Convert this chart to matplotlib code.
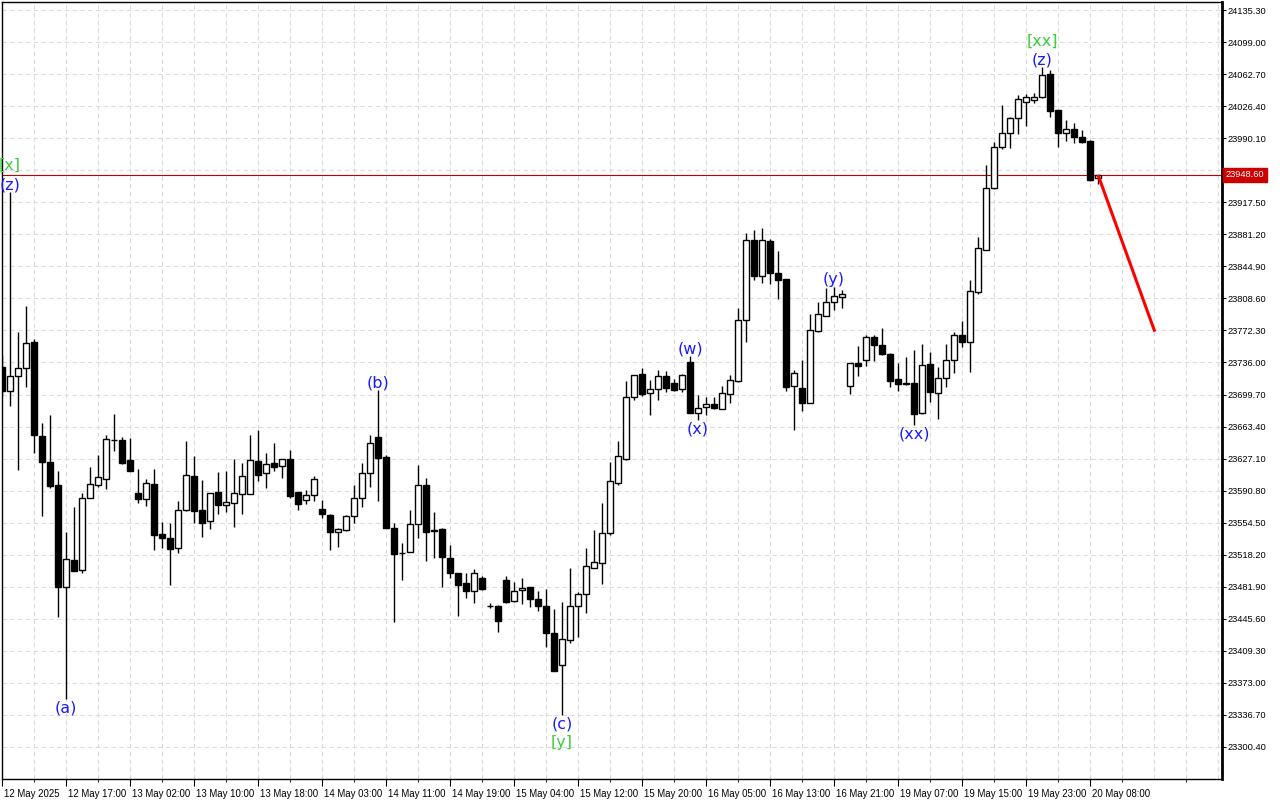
import matplotlib
matplotlib.use('Agg')
import matplotlib.pyplot as plt
import matplotlib.transforms as mtransforms
import numpy as np

# ---------------- data ----------------
opens = [23730.7, 23703.2, 23720.2, 23729.5, 23759.0, 23652.6, 23622.7, 23597.2, 23481.1, 23512.2,
         23501.3, 23583.0, 23597.2, 23604.5, 23648.6, 23647.8, 23625.5, 23588.3, 23581.8, 23598.4,
         23541.6, 23536.8, 23525.4, 23568.5, 23607.0, 23568.5, 23556.0, 23588.9, 23574.9, 23576.4,
         23587.4, 23587.4, 23624.4, 23610.4, 23621.7, 23618.7, 23626.3, 23588.9, 23579.8, 23585.5,
         23570.0, 23563.2, 23544.3, 23546.6, 23562.4, 23582.1, 23610.4, 23651.2, 23629.3, 23548.1,
         23520.5, 23521.6, 23552.6, 23596.8, 23545.8, 23547.0, 23514.1, 23497.1, 23485.8, 23477.5,
         23491.4, 23460.1, 23460.1, 23489.6, 23466.1, 23477.9, 23481.3, 23468.0, 23460.1, 23429.1,
         23393.3, 23421.6, 23460.1, 23473.7, 23503.1, 23508.4, 23542.4, 23600.0, 23626.2, 23697.3,
         23722.6, 23701.0, 23705.6, 23720.3, 23712.3, 23705.6, 23736.9, 23678.4, 23685.9, 23688.6,
         23683.7, 23700.3, 23714.6, 23784.1, 23874.7, 23834.3, 23873.6, 23837.7, 23830.5, 23709.7,
         23706.7, 23690.4, 23772.0, 23789.0, 23804.9, 23810.5, 23709.7, 23735.8, 23738.8, 23764.5,
         23755.4, 23745.6, 23716.9, 23712.4, 23712.4, 23678.4, 23734.3, 23701.8, 23718.0, 23738.8,
         23767.1, 23758.8, 23816.2, 23863.4, 23933.3, 23980.5, 23995.6, 24012.6, 24031.5, 24033.3,
         24036.4, 24062.8, 24022.0, 23995.6, 24000.1, 23991.0, 23986.9, 23945.5]
highs = [23745.0, 23929.0, 23770.0, 23800.3, 23763.1, 23667.2, 23676.1, 23612.6, 23543.8, 23572.1,
         23588.3, 23617.4, 23630.8, 23653.8, 23677.3, 23651.8, 23651.0, 23615.4, 23604.1, 23615.0,
         23554.9, 23553.8, 23578.7, 23647.0, 23630.0, 23602.8, 23587.7, 23611.9, 23613.0, 23626.3,
         23621.7, 23653.8, 23659.5, 23633.4, 23644.8, 23627.0, 23636.8, 23589.5, 23591.5, 23607.4,
         23580.2, 23564.0, 23548.5, 23563.0, 23597.2, 23621.7, 23653.8, 23704.8, 23631.2, 23554.5,
         23531.1, 23568.9, 23619.8, 23604.7, 23567.0, 23548.0, 23529.2, 23497.5, 23497.1, 23501.6,
         23494.5, 23463.9, 23461.0, 23494.1, 23486.9, 23491.4, 23482.0, 23477.1, 23479.0, 23456.3,
         23464.3, 23502.8, 23475.6, 23525.4, 23546.2, 23577.2, 23623.0, 23647.0, 23715.0, 23721.8,
         23729.4, 23715.8, 23727.5, 23726.3, 23717.0, 23723.0, 23743.3, 23699.1, 23697.3, 23697.3,
         23709.3, 23721.8, 23797.3, 23883.0, 23886.1, 23887.9, 23875.5, 23862.3, 23831.0, 23727.5,
         23738.8, 23790.5, 23804.9, 23820.0, 23821.9, 23818.0, 23735.5, 23755.0, 23767.1, 23767.1,
         23775.4, 23747.0, 23735.0, 23742.6, 23750.1, 23756.9, 23747.5, 23731.2, 23756.9, 23770.1,
         23782.9, 23829.4, 23877.8, 23959.7, 23985.4, 24027.7, 24014.5, 24039.0, 24039.7, 24041.6,
         24070.3, 24067.3, 24022.5, 24010.7, 24006.9, 23999.4, 23988.0, 23948.9]
lows = [23698.0, 23686.2, 23614.2, 23708.4, 23633.6, 23562.0, 23594.0, 23447.5, 23354.4, 23499.3,
        23498.0, 23583.0, 23595.2, 23593.1, 23635.6, 23620.6, 23613.0, 23577.0, 23573.7, 23524.0,
        23526.2, 23483.9, 23520.5, 23568.0, 23554.5, 23538.6, 23547.7, 23564.3, 23566.9, 23550.0,
        23564.7, 23587.0, 23602.1, 23594.2, 23613.4, 23605.5, 23582.1, 23569.2, 23575.3, 23579.4,
        23560.2, 23523.5, 23527.3, 23545.5, 23554.5, 23572.6, 23595.3, 23579.4, 23548.1, 23442.4,
        23489.6, 23521.0, 23536.8, 23511.5, 23514.1, 23481.2, 23491.4, 23449.0, 23468.8, 23463.1,
        23478.5, 23457.5, 23431.0, 23463.1, 23465.0, 23462.0, 23459.3, 23454.8, 23413.3, 23386.8,
        23336.6, 23417.8, 23425.3, 23451.8, 23503.0, 23484.6, 23540.0, 23597.2, 23626.0, 23693.5,
        23698.4, 23676.5, 23693.5, 23702.9, 23704.0, 23703.0, 23679.1, 23670.8, 23676.5, 23683.5,
        23683.0, 23690.4, 23714.0, 23759.6, 23829.4, 23825.6, 23824.5, 23808.3, 23704.0, 23659.5,
        23681.4, 23690.0, 23771.0, 23788.5, 23795.4, 23797.3, 23700.3, 23720.7, 23732.4, 23738.0,
        23744.5, 23708.6, 23704.0, 23710.0, 23665.1, 23678.0, 23691.6, 23671.6, 23707.8, 23723.7,
        23753.1, 23725.6, 23813.6, 23863.0, 23933.0, 23977.4, 23978.6, 23994.4, 24004.3, 24030.3,
        24035.2, 24014.5, 23980.5, 23987.3, 23985.0, 23985.0, 23942.0, 23938.2]
closes = [23703.2, 23720.6, 23729.9, 23757.8, 23653.8, 23623.5, 23596.4, 23481.1, 23513.0, 23500.1,
          23583.0, 23598.0, 23606.1, 23649.0, 23648.2, 23622.3, 23613.4, 23581.8, 23599.2, 23540.5,
          23537.5, 23524.3, 23568.5, 23608.1, 23567.3, 23554.5, 23587.7, 23574.9, 23577.5, 23587.7,
          23607.0, 23625.1, 23608.9, 23620.6, 23617.9, 23626.3, 23585.1, 23575.3, 23585.5, 23603.6,
          23564.0, 23544.3, 23547.0, 23562.1, 23582.5, 23610.4, 23644.4, 23627.4, 23548.1, 23518.6,
          23520.3, 23552.6, 23596.8, 23544.3, 23545.6, 23515.2, 23497.1, 23483.9, 23477.5, 23497.1,
          23479.0, 23460.3, 23443.5, 23465.0, 23477.1, 23480.1, 23467.6, 23460.5, 23429.1, 23386.8,
          23422.3, 23460.1, 23473.3, 23505.8, 23509.6, 23542.4, 23601.7, 23630.0, 23696.9, 23721.8,
          23700.3, 23705.6, 23720.3, 23706.7, 23704.8, 23721.4, 23679.1, 23684.8, 23688.6, 23684.0,
          23701.0, 23715.8, 23784.1, 23874.7, 23833.9, 23874.7, 23837.0, 23829.4, 23708.6, 23723.7,
          23690.4, 23772.8, 23790.5, 23804.1, 23811.3, 23813.2, 23735.0, 23732.4, 23764.5, 23755.8,
          23745.6, 23715.0, 23712.0, 23711.8, 23677.2, 23733.1, 23702.9, 23718.0, 23738.8, 23767.1,
          23758.8, 23816.6, 23865.3, 23933.3, 23980.5, 23995.6, 24012.6, 24034.1, 24036.4, 24036.4,
          24061.6, 24021.2, 23995.6, 24000.1, 23991.0, 23986.1, 23942.7, 23948.6]

time_tick_idx = [0, 8, 16, 24, 32, 40, 48, 56, 64, 72, 80, 88, 96, 104, 112, 120, 128, 136]
time_tick_labels = ['12 May 2025', '12 May 17:00', '13 May 02:00', '13 May 10:00', '13 May 18:00',
                    '14 May 03:00', '14 May 11:00', '14 May 19:00', '15 May 04:00', '15 May 12:00',
                    '15 May 20:00', '16 May 05:00', '16 May 13:00', '16 May 21:00', '19 May 07:00',
                    '19 May 15:00', '19 May 23:00', '20 May 08:00']
price_ticks = [23300.40, 23336.70, 23373.00, 23409.30, 23445.60, 23481.90, 23518.20, 23554.50,
               23590.80, 23627.10, 23663.40, 23699.70, 23736.00, 23772.30, 23808.60, 23844.90,
               23881.20, 23917.50, 23953.80, 23990.10, 24026.40, 24062.70, 24099.00, 24135.30]

current_price = 23948.60

# wave labels: candle index, text, colour key, side (high/low), stack level
wave_idx = [1, 1, 8, 47, 70, 70, 86, 87, 104, 114, 130, 130]
wave_text = ['(z)', '[x]', '(a)', '(b)', '(c)', '[y]', '(w)', '(x)', '(y)', '(xx)', '(z)', '[xx]']
wave_color = ['b', 'g', 'b', 'b', 'b', 'g', 'b', 'b', 'b', 'b', 'b', 'g']
wave_side = ['high', 'high', 'low', 'high', 'low', 'low', 'high', 'low', 'high', 'low', 'high', 'high']
wave_level = [0, 1, 0, 0, 0, 1, 0, 0, 0, 0, 0, 1]

forecast_x = [137, 144.1]
forecast_y = [23948.6, 23770.9]

# ---------------- figure ----------------
W, H = 1280, 800
fig = plt.figure(figsize=(W / 100, H / 100), dpi=100)
fig.patch.set_facecolor('white')
ax = fig.add_axes([2 / W, (H - 779) / H, 1220 / W, 777 / H])
ax.set_facecolor('white')

ax.set_xlim(0, 152.5)
ax.set_ylim(23264.1, 24144.4)

x = np.arange(len(opens))
o = np.array(opens); h = np.array(highs); l = np.array(lows); c = np.array(closes)
up = c >= o

# grid
grid_kw = dict(color='#dcdcdc', linestyle=(0, (4, 3)), linewidth=0.8, zorder=0)
for yv in price_ticks:
    ax.axhline(yv, **grid_kw)
for xv in range(0, 153, 4):
    ax.axvline(xv, **grid_kw)

# candles
ax.vlines(x, l, h, color='black', linewidth=1.0, zorder=2)
bottoms = np.minimum(o, c)
heights = np.abs(c - o)
ax.bar(x[up], heights[up], bottom=bottoms[up], width=0.68, facecolor='white',
       edgecolor='black', linewidth=1.0, zorder=3)
ax.bar(x[~up], heights[~up], bottom=bottoms[~up], width=0.68, facecolor='black',
       edgecolor='black', linewidth=1.0, zorder=3)

# current price line
ax.axhline(current_price, color='#c00000', linewidth=0.8, zorder=1.5)

# forecast arrow line
ax.plot(forecast_x, forecast_y, color='#ff0000', linewidth=2.2, zorder=4,
        solid_capstyle='butt')

# wave labels
col = {'b': '#1a1aff', 'g': '#3ccc3c'}
for i, t, cc, sd, lv in zip(wave_idx, wave_text, wave_color, wave_side, wave_level):
    if sd == 'high':
        yv = highs[i]
        dy = 0 + 19 * lv
        va = 'bottom'
    else:
        yv = lows[i]
        dy = -1 - 19 * lv
        va = 'top'
    an = ax.annotate(t, xy=(i, yv), xytext=(0, dy), textcoords='offset pixels',
                     ha='center', va=va, color=col[cc], fontsize=11.5,
                     fontfamily='DejaVu Sans', zorder=5)
    an.set_clip_on(True)

# axes styling
for sp in ax.spines.values():
    sp.set_color('black')
    sp.set_linewidth(1.0)
ax.spines['right'].set_linewidth(2.0)

ax.yaxis.tick_right()
ax.set_yticks(price_ticks)
ax.set_yticklabels(['%.2f' % v for v in price_ticks])
ax.tick_params(axis='y', which='major', direction='out', length=3, width=0.8,
               labelsize=6.7, pad=1, colors='black')
for lab in ax.get_yticklabels():
    lab.set_fontfamily('Liberation Sans')

ax.set_xticks(time_tick_idx)
ax.set_xticklabels(time_tick_labels)
ax.set_xticks(list(range(4, 153, 8)), minor=True)
ax.tick_params(axis='x', which='major', direction='out', length=5, width=0.8,
               labelsize=6.9, pad=2, colors='black')
ax.tick_params(axis='x', which='minor', direction='out', length=2, width=0.6)
offset = mtransforms.ScaledTranslation(2 / 100, 0, fig.dpi_scale_trans)
for lab in ax.get_xticklabels():
    lab.set_horizontalalignment('left')
    lab.set_fontfamily('Liberation Sans')
    lab.set_transform(lab.get_transform() + offset)

# current price tag on right axis
ypix = ax.transData.transform((0, current_price))[1]
fig.text(1226 / W, ypix / H, '%.2f' % current_price, color='white', fontsize=6.7,
         fontfamily='Liberation Sans', ha='left', va='center', zorder=10,
         bbox=dict(boxstyle='square,pad=0.3', facecolor='#cc0000', edgecolor='#cc0000'))

fig.savefig('out.png', dpi=100, facecolor='white')
